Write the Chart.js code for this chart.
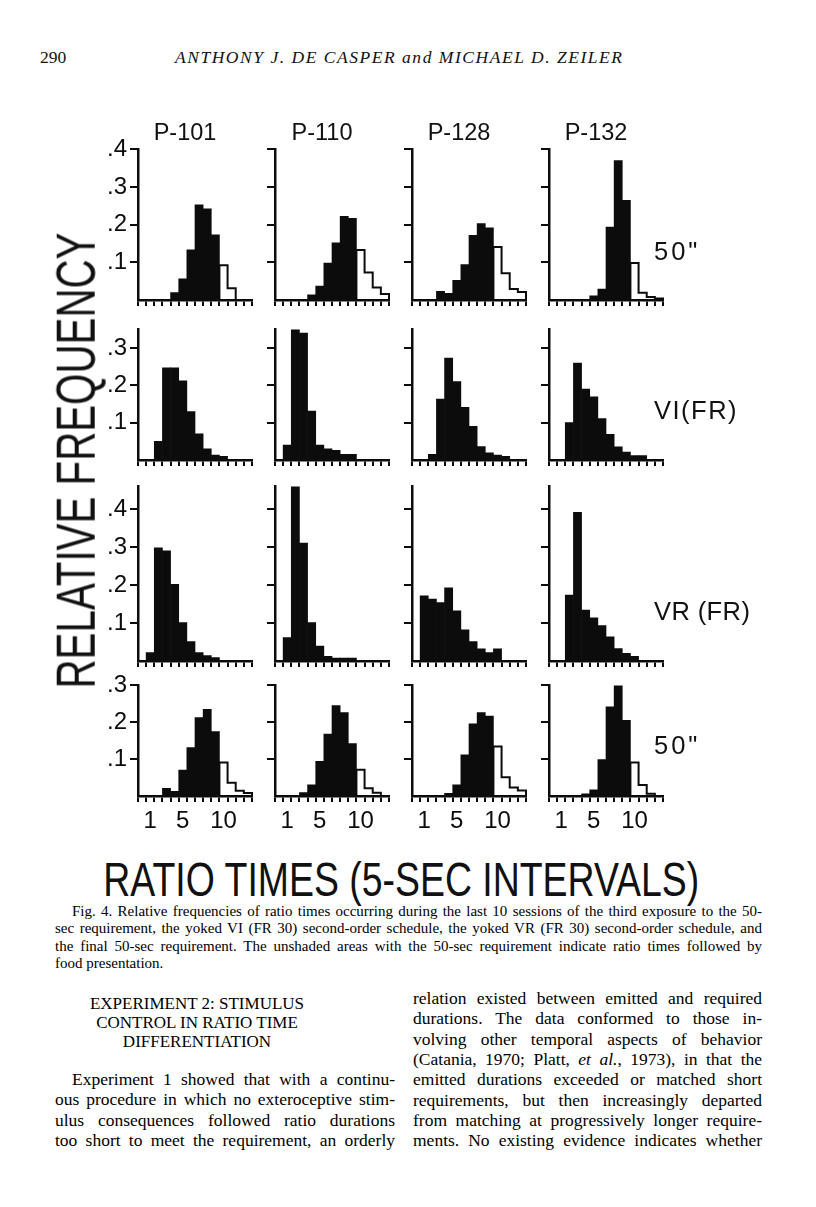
<!DOCTYPE html>
<html>
<head>
<meta charset="utf-8">
<script src="https://cdn.jsdelivr.net/npm/chart.js@4.4.1/dist/chart.umd.min.js"></script>
<style>
  body { margin: 0; background: #fff; }
  #page { position: relative; width: 816px; height: 1207px; overflow: hidden; background: #fff; color: #111; }
  #page canvas { position: absolute; }
  .t { position: absolute; white-space: nowrap; line-height: 1; }
  .letter { font-family: "Liberation Sans", Arial, sans-serif; color: #111; }
  .serif { font-family: "Liberation Serif", "DejaVu Serif", serif; color: #111; }
</style>
</head>
<body>
<div id="page"></div>
<script>
// ---- data ----
const pigeons = ['P-101', 'P-110', 'P-128', 'P-132'];
const conditions = ['50"', 'VI(FR)', 'VR (FR)', '50"'];
const bins = ['0', '1', '2', '3', '4', '5', '6', '7', '8', '9', '10', '11', '12', '13'];
const xLabelsShown = ['1', '5', '10'];
const yTickValues = [0.1, 0.2, 0.3, 0.4];
const rowMax = [0.4, 0.35, 0.46, 0.3];
const reinforcedFrom = 10; // first 5-sec bin that met the 50-sec requirement (unshaded)

// relative frequency per bin, one array per panel
// first 50-sec requirement
const p101First = [0, 0, 0, 0, .020, .056, .133, .253, .242, .173, .092, .031, 0, 0];
const p110First = [0, 0, 0, 0, .014, .037, .098, .152, .222, .217, .133, .073, .033, .016];
const p128First = [0, 0, 0, .023, .018, .052, .094, .172, .203, .192, .141, .071, .029, .021];
const p132First = [0, 0, 0, 0, 0, .011, .029, .194, .370, .265, .098, .019, .008, .004];
// yoked VI (FR 30)
const p101VI = [0, 0, .050, .247, .247, .212, .130, .070, .030, .013, .010, 0, 0, 0];
const p110VI = [0, .040, .355, .340, .131, .040, .030, .026, .015, .015, 0, 0, 0, 0];
const p128VI = [0, 0, .015, .163, .273, .210, .141, .090, .036, .019, .013, .010, 0, 0];
const p132VI = [0, 0, .100, .260, .190, .169, .111, .069, .035, .021, .012, .012, 0, 0];
// yoked VR (FR 30)
const p101VR = [0, .022, .298, .290, .202, .101, .051, .022, .014, .009, 0, 0, 0, 0];
const p110VR = [0, .062, .460, .311, .101, .039, .012, .008, .008, .008, 0, 0, 0, 0];
const p128VR = [0, .172, .163, .154, .193, .132, .082, .051, .032, .022, .032, 0, 0, 0];
const p132VR = [0, 0, .174, .392, .134, .114, .093, .064, .033, .020, .012, 0, 0, 0];
// final 50-sec requirement
const p101Final = [0, 0, 0, .021, .013, .070, .131, .213, .235, .175, .091, .036, .014, .008];
const p110Final = [0, 0, 0, .009, .030, .094, .168, .245, .226, .142, .071, .021, .009, 0];
const p128Final = [0, 0, 0, 0, .007, .030, .112, .196, .226, .217, .134, .051, .023, .015];
const p132Final = [0, 0, 0, 0, .006, .017, .099, .242, .302, .205, .091, .030, .006, 0];

const panels = [
  [p101First, p110First, p128First, p132First],
  [p101VI, p110VI, p128VI, p132VI],
  [p101VR, p110VR, p128VR, p132VR],
  [p101Final, p110Final, p128Final, p132Final]
];

// ---- layout ----
const INK = '#0c0c0c';
const LETTER = '"Liberation Sans", Arial, sans-serif';
const colX = [138, 275, 412, 549];      // y axis of each column
const rowBase = [300, 460, 661, 796];   // x axis of each row
const PX_PER_UNIT = 400;
const BIN_W = 114 / 14;
const Y_AXIS_W = 45, X_AXIS_H = 36, PAD_T = 8, PAD_R = 4;

const page = document.getElementById('page');

function put(text, x, y, cls, css, html) {
  const d = document.createElement('div');
  d.className = 't ' + cls;
  if (html) d.innerHTML = text; else d.textContent = text;
  Object.assign(d.style, { left: x + 'px', top: y + 'px' }, css || {});
  page.appendChild(d);
  return d;
}

// stretch a single line to a given width through its word spacing
function justify(el, target) {
  const w = el.getBoundingClientRect().width;
  const n = (el.textContent.match(/ /g) || []).length;
  if (n) el.style.wordSpacing = ((target - w) / n) + 'px';
}
function spread(el, target) {
  const w = el.getBoundingClientRect().width;
  const n = el.textContent.length - 1;
  if (n > 0) el.style.letterSpacing = ((target - w) / n) + 'px';
}

// unshaded (reinforced) bars drawn as a step outline
const stepOutline = {
  id: 'stepOutline',
  afterDatasetsDraw(chart) {
    const ds = chart.data.datasets[1];
    if (!ds) return;
    const meta = chart.getDatasetMeta(1);
    const bars = meta.data.filter((b, i) => ds.data[i] != null);
    if (!bars.length) return;
    const ctx = chart.ctx;
    const base = bars[0].base;
    ctx.save();
    ctx.strokeStyle = INK;
    ctx.lineWidth = 2;
    ctx.beginPath();
    ctx.moveTo(bars[0].x - bars[0].width / 2, base);
    bars.forEach(b => {
      ctx.lineTo(b.x - b.width / 2, b.y);
      ctx.lineTo(b.x + b.width / 2, b.y);
    });
    const last = bars[bars.length - 1];
    ctx.lineTo(last.x + last.width / 2, base);
    ctx.stroke();
    ctx.restore();
  }
};

function makePanel(row, col) {
  const values = panels[row][col];
  const ymax = rowMax[row];
  const plotH = ymax * PX_PER_UNIT;
  const W = Math.round(Y_AXIS_W + bins.length * BIN_W + PAD_R);
  const H = Math.round(PAD_T + plotH + X_AXIS_H);
  const canvas = document.createElement('canvas');
  canvas.width = W;
  canvas.height = H;
  canvas.style.width = W + 'px';
  canvas.style.height = H + 'px';
  canvas.style.left = (colX[col] - Y_AXIS_W) + 'px';
  canvas.style.top = (rowBase[row] - plotH - PAD_T) + 'px';
  page.appendChild(canvas);

  const split = row === 0 || row === 3;
  const shaded = values.map((v, i) => split && i >= reinforcedFrom ? null : v);
  const unshaded = values.map((v, i) => split && i >= reinforcedFrom ? v : null);

  new Chart(canvas, {
    type: 'bar',
    data: {
      labels: bins,
      datasets: [
        { data: shaded, backgroundColor: INK, borderWidth: 0, barPercentage: 1, categoryPercentage: 1, grouped: false },
        { data: unshaded, backgroundColor: 'rgba(0,0,0,0)', borderWidth: 0, barPercentage: 1, categoryPercentage: 1, grouped: false }
      ]
    },
    options: {
      responsive: false,
      animation: false,
      devicePixelRatio: 1,
      layout: { padding: { top: PAD_T, right: PAD_R, left: 0, bottom: 0 } },
      plugins: { legend: { display: false }, tooltip: { enabled: false } },
      scales: {
        x: {
          offset: true,
          grid: { offset: true, drawOnChartArea: false, drawTicks: true, tickLength: 6, color: INK, lineWidth: 2 },
          border: { display: true, color: INK, width: 2.5 },
          ticks: {
            autoSkip: false, maxRotation: 0, padding: 5, color: INK,
            font: { family: LETTER, size: 24 },
            callback: (v, i) => row === 3 && xLabelsShown.includes(bins[i]) ? bins[i] : ''
          },
          afterFit: s => { s.height = X_AXIS_H; }
        },
        y: {
          min: 0,
          max: ymax,
          afterBuildTicks: s => { s.ticks = yTickValues.filter(v => v <= ymax + 1e-9).map(v => ({ value: v })); },
          grid: { drawOnChartArea: false, tickLength: 8, color: INK, lineWidth: 2 },
          border: { display: true, color: INK, width: 2.5 },
          ticks: {
            padding: 3, color: INK,
            font: { family: LETTER, size: 24 },
            callback: v => col === 0 ? '.' + Math.round(v * 10) : ''
          },
          afterFit: s => { s.width = Y_AXIS_W; }
        }
      }
    },
    plugins: [stepOutline]
  });
}

for (let r = 0; r < 4; r++) {
  for (let c = 0; c < 4; c++) makePanel(r, c);
}

// panel titles and condition labels
pigeons.forEach((p, c) => {
  put(p, colX[c] + 47, 133, 'letter', { fontSize: '23.5px', transform: 'translate(-50%,-50%)' });
});
const condY = [252, 411, 612, 746];
const condSpacing = [3, 1.5, 0.4, 3];
conditions.forEach((t, r) => {
  put(t, 654, condY[r], 'letter', { fontSize: '25.5px', letterSpacing: condSpacing[r] + 'px', transform: 'translateY(-50%)' });
});

// big condensed axis titles
function condensed(text, cx, cy, size, length, rotate) {
  const d = put(text, 0, 0, 'letter', { fontSize: size + 'px' });
  const w = d.getBoundingClientRect().width;
  d.style.left = (cx - w / 2) + 'px';
  d.style.top = (cy - size / 2) + 'px';
  d.style.transformOrigin = '50% 50%';
  d.style.transform = (rotate ? 'rotate(-90deg) ' : '') + 'scaleX(' + (length / w) + ')';
}
condensed('RELATIVE FREQUENCY', 76, 460, 55, 456, true);
condensed('RATIO TIMES (5-SEC INTERVALS)', 401, 879, 49, 596, false);

// running head
put('290', 40, 49, 'serif', { fontSize: '17.5px' });
spread(put('ANTHONY J. DE CASPER and MICHAEL D. ZEILER', 175, 49, 'serif', { fontSize: '17.5px', fontStyle: 'italic' }), 447);

// caption
const captionLines = [
  'Fig. 4. Relative frequencies of ratio times occurring during the last 10 sessions of the third exposure to the 50-',
  'sec requirement, the yoked VI (FR 30) second-order schedule, the yoked VR (FR 30) second-order schedule, and',
  'the final 50-sec requirement. The unshaded areas with the 50-sec requirement indicate ratio times followed by',
  'food presentation.'
];
captionLines.forEach((l, i) => {
  const left = i === 0 ? 72 : 55;
  const d = put(l, left, 904 + i * 17.3, 'serif', { fontSize: '15px', color: '#000' });
  if (i < captionLines.length - 1) justify(d, 762 - left);
});

// body text
['EXPERIMENT 2: STIMULUS', 'CONTROL IN RATIO TIME', 'DIFFERENTIATION'].forEach((l, i) => {
  put(l, 197, 1003 + i * 19, 'serif', { fontSize: '17px', color: '#000', transform: 'translate(-50%,-50%)' });
});
const leftLines = [
  'Experiment 1 showed that with a continu-',
  'ous procedure in which no exteroceptive stim-',
  'ulus consequences followed ratio durations',
  'too short to meet the requirement, an orderly'
];
leftLines.forEach((l, i) => {
  const left = i === 0 ? 72 : 55;
  const d = put(l, left, 1071 + i * 20.3, 'serif', { fontSize: '17.5px', color: '#000' });
  justify(d, 395 - left);
});
const rightLines = [
  'relation existed between emitted and required',
  'durations. The data conformed to those in-',
  'volving other temporal aspects of behavior',
  '(Catania, 1970; Platt, <i>et al.</i>, 1973), in that the',
  'emitted durations exceeded or matched short',
  'requirements, but then increasingly departed',
  'from matching at progressively longer require-',
  'ments. No existing evidence indicates whether'
];
rightLines.forEach((l, i) => {
  const d = put(l, 413, 990 + i * 20.3, 'serif', { fontSize: '17.5px', color: '#000' }, true);
  justify(d, 349);
});
</script>
</body>
</html>
